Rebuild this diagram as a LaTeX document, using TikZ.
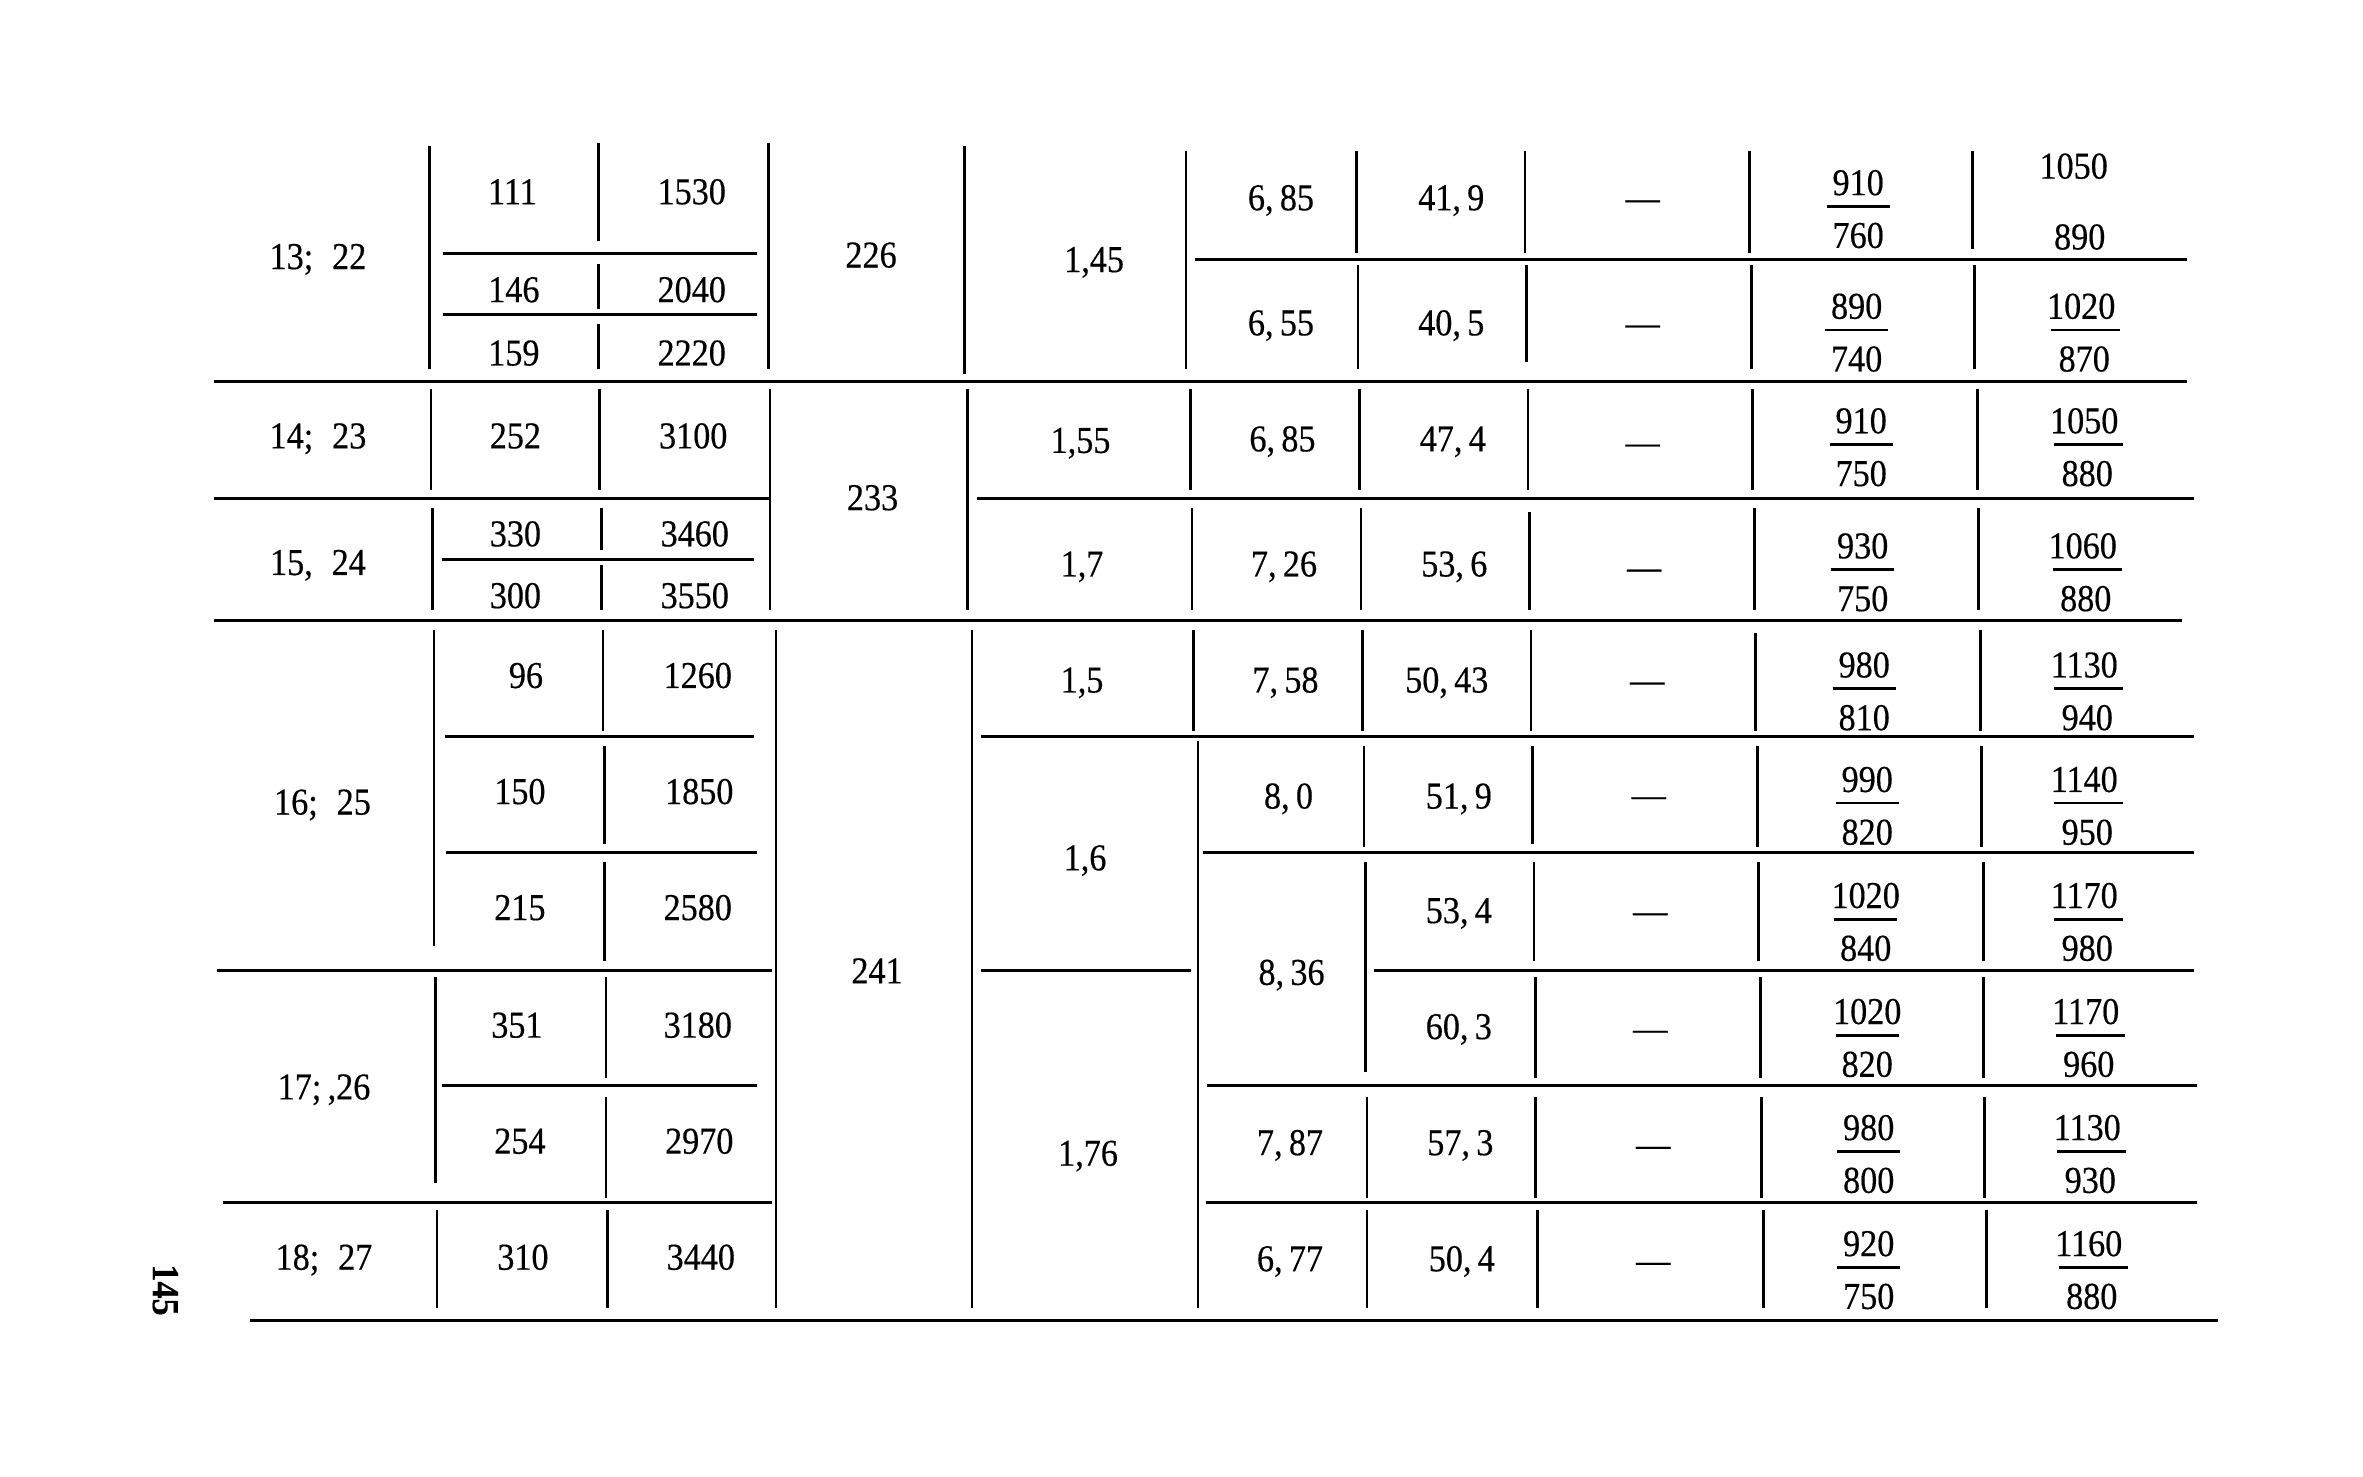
\documentclass[tikz,border=0pt]{standalone}
\usepackage{fontspec}
\setmainfont{Liberation Serif}[FakeStretch=0.9, FakeBold=0.4]

\begin{document}
\begin{tikzpicture}[x=0.01507cm, y=-0.01507cm,
  cell/.style={inner sep=0pt, font=\fontsize{10.8}{12}\selectfont, text height=7.3pt, text depth=0pt},
  hrule/.style={line width=0.85pt},
  vrule/.style={line width=0.75pt},
  fbar/.style={line width=0.7pt}]
  \useasboundingbox (0,0) rectangle (1568,980);

  % Filas (lineas horizontales)
  \foreach \xa/\xb/\yy in {142/1451/253, 142/1448/412, 166/1472/876,
      142/510/331, 648/1456/331, 144/512/644, 651/790/644, 912/1456/644,
      148/512/798, 800/1458/798, 793/1451/172,
      294/502/168, 294/502/209, 293/500/371, 295/500/489, 651/1456/489,
      296/502/566, 798/1456/566, 293/502/720, 801/1458/720}
    \draw[hrule] (\xa,\yy) -- (\xb,\yy);

  % Columnas (lineas verticales)
  \foreach \xx/\ya/\yb in {285/97/245, 286/258/325, 287/337/405, 288/418/628, 289/648/785, 290/803/868,
      397/95/160, 397/175/205, 397/215/245, 398/258/325, 399/337/365, 399/375/405,
      400/418/485, 401/495/560, 401/572/638, 402/648/715, 402/728/795, 403/803/868,
      510/95/245, 511/258/405, 515/418/868,
      640/97/248, 642/258/405, 645/418/868,
      787/100/245, 790/258/325, 791/337/405, 792/418/485, 795/492/868,
      900/100/168, 901/176/245, 902/258/325, 903/337/405, 904/418/485, 905/495/562,
      906/572/711, 907/728/795, 907/803/868,
      1012/100/168, 1013/176/240, 1014/258/325, 1015/340/405, 1016/418/485,
      1017/495/560, 1018/572/638, 1019/648/715, 1019/728/795, 1020/803/868,
      1161/100/168, 1162/176/245, 1163/258/325, 1164/337/405, 1165/420/485,
      1166/495/562, 1167/572/638, 1168/648/715, 1169/728/795, 1170/803/868,
      1309/100/165, 1310/176/245, 1312/258/325, 1313/337/405, 1314/418/485,
      1315/495/562, 1316/572/638, 1316/648/715, 1317/728/795, 1318/803/868}
    \draw[vrule] (\xx,\ya) -- (\xx,\yb);

  % Grupos
  \foreach \xx/\yy/\txt [count=\k] in {211/170/{13;\enspace 22}, 211/289/{14;\enspace 23},
      211/373/{15,\enspace 24}, 214/532/{16;\enspace 25}, 215/721/{17;\,,26}, 215/834/{18;\enspace 27}}
    \node[cell] (g\k) at (\xx,\yy) {\txt};

  % Columnas a y b
  \foreach \xx/\yy/\txt [count=\k] in {340/127/111, 341/192/146, 341/234/159, 342/289/252,
      342/354/330, 342/395/300, 349/448/96, 345/525/150, 345/602/215, 343/680/351,
      345/757/254, 347/834/310}
    \node[cell] (a\k) at (\xx,\yy) {\txt};
  \foreach \xx/\yy/\txt [count=\k] in {459/127/1530, 459/192/2040, 459/234/2220, 460/289/3100,
      461/354/3460, 461/395/3550, 463/448/1260, 464/525/1850, 463/602/2580, 463/680/3180,
      464/757/2970, 465/834/3440}
    \node[cell] (b\k) at (\xx,\yy) {\txt};

  % Columnas c y d
  \foreach \xx/\yy/\txt [count=\k] in {578/169/226, 579/330/233, 582/644/241}
    \node[cell] (c\k) at (\xx,\yy) {\txt};
  \foreach \xx/\yy/\txt [count=\k] in {726/172/{1,45}, 717/292/{1,55}, 718/374/{1,7},
      718/451/{1,5}, 720/569/{1,6}, 722/765/{1,76}}
    \node[cell] (d\k) at (\xx,\yy) {\txt};

  % Columnas e, f y g
  \foreach \xx/\yy/\txt [count=\k] in {850/131/{6,\,85}, 850/214/{6,\,55}, 851/291/{6,\,85},
      852/374/{7,\,26}, 853/451/{7,\,58}, 855/528/{8,\,0}, 857/645/{8,\,36}, 856/758/{7,\,87},
      856/835/{6,\,77}}
    \node[cell] (e\k) at (\xx,\yy) {\txt};
  \foreach \xx/\yy/\txt [count=\k] in {963/131/{41,\,9}, 963/214/{40,\,5}, 964/291/{47,\,4},
      965/374/{53,\,6}, 960/451/{50,\,43}, 968/528/{51,\,9}, 968/604/{53,\,4}, 968/681/{60,\,3},
      969/758/{57,\,3}, 970/835/{50,\,4}}
    \node[cell] (f\k) at (\xx,\yy) {\txt};
  \foreach \xx/\yy [count=\k] in {1090/131, 1090/214, 1090/293, 1091/376, 1093/451,
      1094/527, 1095/604, 1095/682, 1097/759, 1097/836}
    \node[cell] (dash\k) at (\xx,\yy) {---};

  % Fracciones h
  \foreach \xx/\yy/\nu/\de [count=\k] in {1233/137/910/760, 1232/219/890/740, 1235/295/910/750,
      1236/378/930/750, 1237/457/980/810, 1239/533/990/820, 1238/610/1020/840,
      1239/687/1020/820, 1240/764/980/800, 1240/841/920/750} {
    \node[cell] (hn\k) at (\xx,\yy-16) {\nu};
    \node[cell] (hd\k) at (\xx,\yy+19) {\de};
    \draw[fbar] (\xx-21,\yy) -- (\xx+21,\yy);
  }

  % Fracciones i
  \node[cell] (in1) at (1376,110) {1050};
  \node[cell] (id1) at (1380,157) {890};
  \foreach \xx/\yy/\nu/\de [count=\k from 2] in {1384/219/1020/870, 1386/295/1050/880,
      1385/378/1060/880, 1386/457/1130/940, 1386/533/1140/950, 1386/610/1170/980,
      1387/687/1170/960, 1388/764/1130/930, 1389/841/1160/880} {
    \node[cell] (in\k) at (\xx-3,\yy-16) {\nu};
    \node[cell] (id\k) at (\xx-1,\yy+19) {\de};
    \draw[fbar] (\xx-23,\yy) -- (\xx+23,\yy);
  }

  % Pagina
  \node[cell, font=\fontsize{10.8}{12}\selectfont\bfseries, rotate=-90] (pag) at (110,856) {145};
\end{tikzpicture}
\end{document}
